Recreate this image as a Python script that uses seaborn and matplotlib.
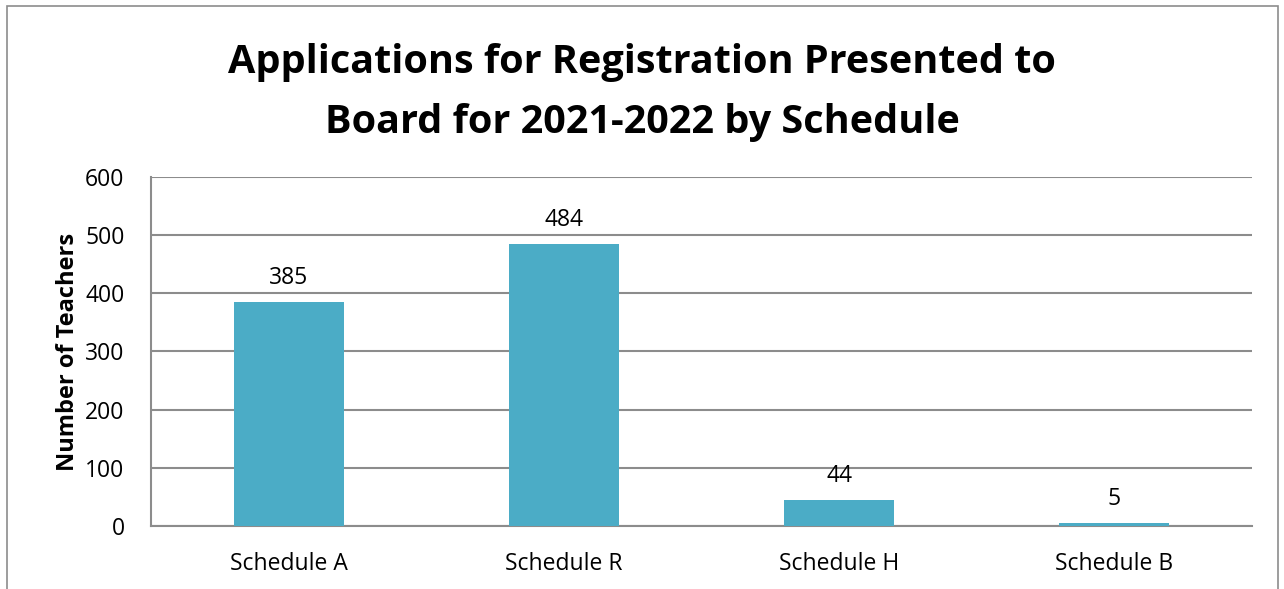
import pandas as pd
import seaborn as sns
import matplotlib.pyplot as plt
from matplotlib.patches import Rectangle

# DATOS
categorias = ['Schedule A', 'Schedule R', 'Schedule H', 'Schedule B']
profesores = [385, 484, 44, 5]
ticks_y = [0, 100, 200, 300, 400, 500, 600]

df = pd.DataFrame({'schedule': categorias, 'teachers': profesores})

sns.set_style('white')
plt.rcParams['font.family'] = ['Open Sans', 'DejaVu Sans']
plt.rcParams['text.color'] = 'black'
plt.rcParams['xtick.color'] = 'black'
plt.rcParams['ytick.color'] = 'black'
plt.rcParams['axes.labelcolor'] = 'black'

fig = plt.figure(figsize=(12.84, 5.89), dpi=100)
ax = fig.add_axes([0.1176, 0.107, 0.8575, 0.5925])

sns.barplot(data=df, x='schedule', y='teachers', color='#4BACC6',
            saturation=1, width=0.4, linewidth=0, ax=ax, zorder=3)

ax.set_ylim(0, 600)
ax.set_yticks(ticks_y)
ax.yaxis.grid(True, color='#8C8C8C', linewidth=1.5, zorder=0)
ax.set_axisbelow(True)
for s in ['top', 'right']:
    ax.spines[s].set_visible(False)
for s in ['left', 'bottom']:
    ax.spines[s].set_color('#8C8C8C')
    ax.spines[s].set_linewidth(1.5)
ax.tick_params(axis='both', length=0, labelsize=16.5)
ax.tick_params(axis='y', pad=19)
ax.tick_params(axis='x', pad=19)

ax.set_xlabel('')
ax.set_ylabel('Number of Teachers', fontsize=17, fontweight='bold', labelpad=4)

# ETIQUETAS DE DATOS
ax.bar_label(ax.containers[0], labels=[str(v) for v in profesores],
             fontsize=16.5, padding=9)

fig.suptitle('Applications for Registration Presented to\nBoard for 2021-2022 by Schedule',
             fontsize=28.5, fontweight='bold', y=0.927, linespacing=1.7)

# MARCO DEL GRAFICO
fig.patches.append(Rectangle((0.0055, -0.05), 0.9898, 1.04, transform=fig.transFigure,
                             fill=False, edgecolor='#8C8C8C', linewidth=1.2))

fig.savefig('out.png', dpi=100)
